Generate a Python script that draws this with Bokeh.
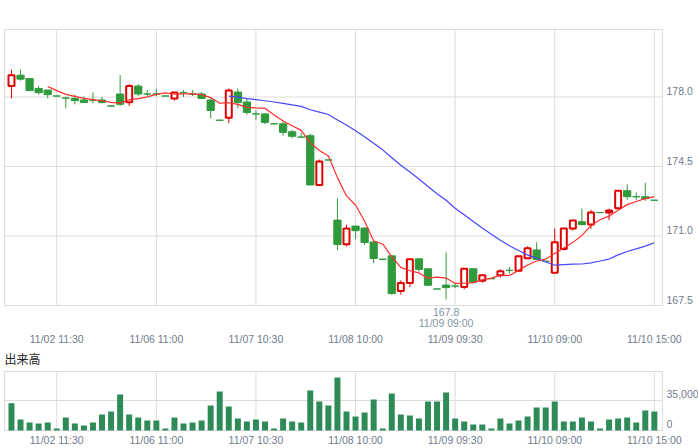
from bokeh.plotting import figure
from bokeh.layouts import column
from bokeh.models import FixedTicker, Label, LinearAxis, Range1d
from bokeh.embed import file_html
from bokeh.resources import INLINE

# ---- data (30-minute bars, 11/02 09:00 .. 11/10 15:00) ----
opens = [178.55, 179.10, 178.93, 178.43, 178.35, 178.05, 177.95, 177.93, 177.85, 177.83,
         177.85, 177.55, 178.15, 177.73, 178.55, 178.15, 178.15, 178.05, 177.93, 178.23,
         178.15, 178.15, 177.85, 176.83, 176.95, 178.25, 177.75, 177.15, 177.15, 176.65,
         176.65, 176.25, 175.98, 176.05, 173.57, 174.83, 171.80, 170.58, 171.50, 171.40,
         170.70, 169.83, 170.00, 168.23, 168.63, 169.85, 169.35, 168.33, 168.53, 168.48,
         168.43, 169.35, 168.75, 168.85, 169.03, 169.27, 169.25, 169.88, 170.30, 169.73,
         169.15, 170.35, 171.38, 171.72, 171.58, 172.18, 172.18, 172.40, 173.28, 172.98,
         172.98, 172.80]
highs = [179.38, 179.38, 178.95, 178.55, 178.35, 178.07, 178.02, 178.12, 178.02, 178.23,
         178.00, 177.57, 179.10, 178.65, 178.65, 178.35, 178.42, 178.07, 178.23, 178.35,
         178.35, 178.25, 177.93, 176.85, 178.43, 178.43, 177.90, 177.32, 177.15, 176.67,
         176.78, 176.35, 176.20, 176.15, 174.85, 174.85, 172.90, 171.57, 171.50, 171.45,
         170.70, 169.85, 170.00, 168.77, 169.83, 169.85, 169.35, 168.35, 170.18, 168.58,
         169.35, 169.35, 169.02, 168.87, 169.32, 169.45, 169.98, 170.48, 170.68, 169.75,
         171.38, 171.38, 171.78, 172.38, 172.32, 172.20, 172.38, 173.28, 173.60, 173.20,
         173.68, 172.82]
lows = [177.93, 178.82, 178.30, 178.12, 177.93, 178.03, 177.43, 177.63, 177.72, 177.68,
        177.68, 177.53, 177.55, 177.55, 178.05, 178.05, 178.05, 178.03, 177.82, 178.00,
        178.05, 177.90, 176.93, 176.81, 176.68, 177.43, 177.10, 176.85, 176.63, 176.63,
        176.05, 175.92, 175.93, 173.57, 173.57, 174.81, 170.28, 170.47, 170.85, 170.55,
        169.63, 169.81, 168.05, 168.05, 168.43, 169.20, 168.50, 168.31, 167.80, 168.38,
        168.32, 168.60, 168.65, 168.83, 168.90, 169.10, 169.20, 169.85, 169.82, 169.71,
        169.15, 170.27, 171.27, 171.52, 171.35, 172.16, 171.80, 172.40, 172.82, 172.82,
        172.77, 172.78]
closes = [179.10, 178.90, 178.32, 178.22, 178.12, 178.05, 177.95, 177.82, 177.72, 177.83,
          177.72, 177.55, 177.63, 178.55, 178.15, 178.15, 178.15, 178.05, 178.23, 178.23,
          178.15, 177.93, 177.32, 176.83, 178.33, 177.72, 177.22, 177.15, 176.72, 176.65,
          176.22, 176.02, 175.98, 173.57, 174.75, 174.83, 170.57, 171.38, 171.27, 170.67,
          169.87, 169.83, 168.10, 168.63, 169.83, 169.32, 168.52, 168.33, 168.40, 168.48,
          169.35, 168.68, 169.02, 168.85, 169.23, 169.27, 169.98, 170.38, 169.82, 169.73,
          170.68, 171.38, 171.78, 171.58, 172.18, 172.18, 172.28, 173.28, 172.98, 172.98,
          172.88, 172.80]
volumes = [31900000, 12800000, 9300000, 8200000, 9300000, 2300000, 15200000, 8200000, 5800000, 9300000,
           18700000, 22200000, 42000000, 18700000, 15200000, 11700000, 11700000, 2300000, 15200000, 8200000,
           9300000, 11700000, 29200000, 45500000, 28000000, 14000000, 10500000, 12800000, 10500000, 2300000,
           14000000, 10500000, 9300000, 46700000, 33800000, 29200000, 61800000, 22200000, 16300000, 21000000,
           36200000, 2300000, 43200000, 18700000, 17500000, 14000000, 33800000, 33800000, 44300000, 14000000,
           10500000, 7000000, 7000000, 2300000, 14000000, 8200000, 11700000, 16300000, 26800000, 26800000,
           33800000, 10500000, 10500000, 15200000, 10500000, 2300000, 12800000, 14000000, 15200000, 9300000,
           23300000, 22200000]
# 5-bar moving average (red), starts at bar 4
ma5 = [178.53, 178.32, 178.13, 178.03, 177.93, 177.87, 177.81, 177.73, 177.69, 177.86,
       177.92, 178.01, 178.13, 178.21, 178.15, 178.16, 178.16, 178.12, 177.97, 177.69,
       177.71, 177.63, 177.48, 177.45, 177.43, 177.09, 176.79, 176.55, 176.32, 175.69,
       175.31, 175.03, 173.94, 173.02, 172.56, 171.74, 170.75, 170.60, 169.95, 169.42,
       169.25, 169.14, 168.88, 168.93, 168.88, 168.61, 168.62, 168.65, 168.79, 168.88,
       169.03, 169.01, 169.27, 169.54, 169.74, 169.84, 170.12, 170.40, 170.68, 171.03,
       171.52, 171.82, 172.00, 172.30, 172.58, 172.74, 172.88, 172.98]
ma5_start = 4
# 25-bar moving average (blue), starts at bar 24
ma25 = [178.04, 177.99, 177.92, 177.87, 177.81, 177.75, 177.68, 177.60, 177.53, 177.36,
        177.24, 177.12, 176.84, 176.59, 176.30, 176.00, 175.67, 175.34, 174.94, 174.56,
        174.22, 173.87, 173.49, 173.13, 172.80, 172.40, 172.07, 171.73, 171.40, 171.09,
        170.79, 170.51, 170.27, 170.04, 169.89, 169.69, 169.53, 169.56, 169.58, 169.59,
        169.65, 169.74, 169.84, 170.05, 170.22, 170.35, 170.49, 170.66]
ma25_start = 24

tick_idx = [5, 16, 27, 38, 49, 60, 71]
tick_labels = ["11/02 11:30", "11/06 11:00", "11/07 10:30", "11/08 10:00",
               "11/09 09:30", "11/10 09:00", "11/10 15:00"]
price_ticks = [167.5, 171.0, 174.5, 178.0]
price_tick_labels = ["167.5", "171.0", "174.5", "178.0"]
vol_ticks = [0, 35000000]
vol_tick_labels = ["0", "35,000,000"]
vol_title = "出来高"
low_idx, low_val, low_time = 48, 167.8, "11/09 09:00"

# ---- style / layout constants ----
UP = "#e00000"
DOWN = "#2f9a3c"
VOLC = "#2e8b57"
MA_RED = "#ff2d2d"
MA_BLUE = "#4646ff"
GRID = "#dcdcdc"
TXT = "#707c8c"
ANN = "#8494a2"
FONT = "Liberation Sans"
FS = "10.5px"

W = 698
F_L = 3                                # canvas frame starts 1px left of the drawn box
BOX_W = 658                            # drawn chart box width (x = 4 .. 662)
X0, X1 = -0.77, 71.9                   # bar-axis extent of the drawn box
SCALE = BOX_W / (X1 - X0)              # px per bar
XR = Range1d(X0 - 1 / SCALE, X0 - 1 / SCALE + (W - F_L) / SCALE)

PY0, PPX, P_BOX_H = 167.5, 20.0, 278   # price box: 167.5 at bottom, 20 px per yen
PY1 = PY0 + P_BOX_H / PPX
VPX = 30 / 35000000                    # volume px per share
V_BOX_H = 59
VY1 = V_BOX_H / VPX

n = len(closes)
xs = list(range(n))
up = [i for i in xs if closes[i] > opens[i]]
dn = [i for i in xs if closes[i] <= opens[i]]


def clean_axis(ax, color=TXT, standoff=0):
    ax.axis_line_color = None
    ax.major_tick_line_color = None
    ax.minor_tick_line_color = None
    ax.major_tick_out = 0
    ax.major_tick_in = 0
    ax.major_label_text_font = FONT
    ax.major_label_text_font_size = FS
    ax.major_label_text_color = color
    ax.major_label_standoff = standoff
    return ax


def time_axis(standoff):
    ax = LinearAxis(ticker=FixedTicker(ticks=tick_idx),
                    major_label_overrides={t: l for t, l in zip(tick_idx, tick_labels)})
    return clean_axis(ax, standoff=standoff)


def box_and_grid(p, y0, y1, hticks):
    p.segment(x0=tick_idx, y0=[y0] * len(tick_idx), x1=tick_idx, y1=[y1] * len(tick_idx),
              line_color=GRID, line_width=1)
    p.segment(x0=[X0] * len(hticks), y0=hticks, x1=[X1] * len(hticks), y1=hticks,
              line_color=GRID, line_width=1)
    p.quad(left=[X0], right=[X1], bottom=[y0], top=[y1], fill_color=None,
           line_color=GRID, line_width=1)


def base_fig(height, y_range, top, bottom):
    p = figure(width=W, height=height, x_range=XR, y_range=y_range,
               output_backend="svg", toolbar_location=None,
               x_axis_location=None, y_axis_location=None,
               min_border_left=F_L, min_border_right=0,
               min_border_top=top, min_border_bottom=bottom)
    p.outline_line_color = None
    p.background_fill_color = "white"
    p.border_fill_color = "white"
    p.xgrid.grid_line_color = None
    p.ygrid.grid_line_color = None
    return p


# ---- price panel ----
p1 = base_fig(347, Range1d(PY0 - 1 / PPX, PY1 + 1 / PPX), 28, 39)
box_and_grid(p1, PY0, PY1, price_ticks)

# lowest-price annotation under the box, then the time axis
p1.add_layout(clean_axis(LinearAxis(ticker=FixedTicker(ticks=[low_idx]),
                                    major_label_overrides={low_idx: f"{low_val:.1f}"}), ANN, 1), "below")
p1.add_layout(clean_axis(LinearAxis(ticker=FixedTicker(ticks=[low_idx]),
                                    major_label_overrides={low_idx: low_time}), ANN, -2), "below")
p1.add_layout(time_axis(1), "below")

p1.segment(x0=dn, y0=[lows[i] for i in dn], x1=dn, y1=[highs[i] for i in dn],
           line_color=DOWN, line_width=1)
p1.segment(x0=up, y0=[lows[i] for i in up], x1=up, y1=[highs[i] for i in up],
           line_color=UP, line_width=1)
p1.vbar(x=dn, width=0.8, top=[opens[i] for i in dn], bottom=[closes[i] for i in dn],
        fill_color=DOWN, line_color=DOWN, line_width=1)
p1.vbar(x=up, width=0.66, top=[closes[i] for i in up], bottom=[opens[i] for i in up],
        fill_color="white", line_color=UP, line_width=2)
p1.line(x=list(range(ma25_start, ma25_start + len(ma25))), y=ma25, line_color=MA_BLUE, line_width=1.2)
p1.line(x=list(range(ma5_start, ma5_start + len(ma5))), y=ma5, line_color=MA_RED, line_width=1.2)

for t, l in zip(price_ticks, price_tick_labels):
    p1.add_layout(Label(x=X1, y=t, text=l, x_offset=4, y_offset=6,
                        text_align="left", text_baseline="middle",
                        text_font=FONT, text_font_size=FS, text_color=TXT))

# ---- volume panel (canvas frame reaches the top of this panel to hold its heading) ----
V_TOP_GAP = 24                          # px between panel top and the volume box
p2 = base_fig(101, Range1d(-1 / VPX, (V_BOX_H + V_TOP_GAP) / VPX), 0, 17)
p2.add_layout(time_axis(2), "below")
box_and_grid(p2, 0, VY1, vol_ticks)
p2.vbar(x=xs, width=0.66, top=volumes, bottom=0, fill_color=VOLC, line_color=None)

for t, l in zip(vol_ticks, vol_tick_labels):
    p2.add_layout(Label(x=X1, y=t, text=l, x_offset=4, y_offset=7,
                        text_align="left", text_baseline="middle",
                        text_font=FONT, text_font_size=FS, text_color=TXT))
p2.add_layout(Label(x=X0, y=VY1, text=vol_title, x_offset=0, y_offset=13,
                    text_align="left", text_baseline="middle",
                    text_font="Noto Sans CJK JP", text_font_size="12px", text_color="#222222"))

layout = column(p1, p2)
open("out.html", "w").write(file_html(layout, INLINE))
